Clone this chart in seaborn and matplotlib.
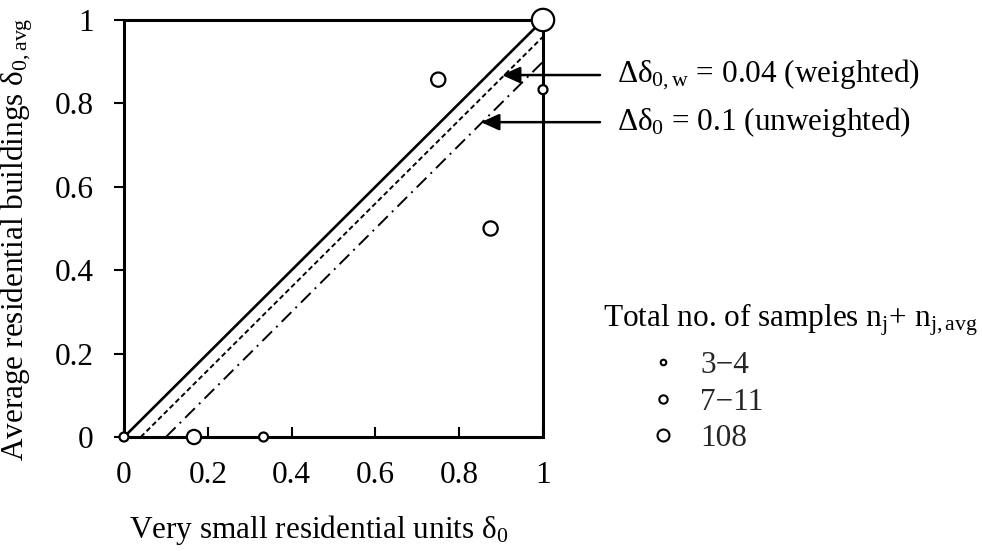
import numpy as np
import pandas as pd
import seaborn as sns
import matplotlib.pyplot as plt
from matplotlib.lines import Line2D

# ---- data -------------------------------------------------------------
delta_small = [0.0, 0.167, 0.333, 1.0, 0.75, 0.875, 1.0]      # very small residential units
delta_avg = [0.0, 0.0, 0.0, 1.0, 0.857, 0.5, 0.833]           # average residential buildings
sample_group = ["3−4", "7−11", "3−4", "108", "7−11", "7−11", "3−4"]

group_order = ["3−4", "7−11", "108"]
offsets = [0.0, 0.04, 0.1]            # 1:1 line, weighted and unweighted shifts
offset_names = ["equal", "weighted", "unweighted"]
tick_vals = [0, 0.2, 0.4, 0.6, 0.8, 1]
tick_labels = ["0", "0.2", "0.4", "0.6", "0.8", "1"]

# ---- style ------------------------------------------------------------
sns.set_theme(style="white")
plt.rcParams["font.family"] = ["Liberation Serif", "DejaVu Serif"]
plt.rcParams["mathtext.fontset"] = "custom"
plt.rcParams["mathtext.rm"] = "Liberation Serif"
plt.rcParams["mathtext.it"] = "Liberation Serif"
plt.rcParams["mathtext.bf"] = "Liberation Serif:bold"
FS = 22.5

W, H = 982, 551
fig = plt.figure(figsize=(W / 100, H / 100), dpi=100)
ax = fig.add_axes([124 / W, 1 - 437 / H, 419 / W, 417 / H])


def fig_xy(px, py):
    """Pixel position (from top-left) to figure fraction."""
    return px / W, 1 - py / H


# ---- reference lines y = x - offset -----------------------------------
line_rows = []
for name, d in zip(offset_names, offsets):
    line_rows.append({"line": name, "x": d, "y": 0.0})
    line_rows.append({"line": name, "x": 1.0, "y": 1.0 - d})
lines = pd.DataFrame(line_rows)

line_styles = {
    "equal": dict(lw=1.9, dashes=None),
    "weighted": dict(lw=1.4, dashes=(2.6, 1.6)),
    "unweighted": dict(lw=1.4, dashes=(7, 3, 1, 3)),
}
for name in offset_names:
    sub = lines[lines["line"] == name]
    st = line_styles[name]
    sns.lineplot(data=sub, x="x", y="y", color="black", lw=st["lw"],
                 ax=ax, legend=False, zorder=3)
    if st["dashes"] is not None:
        ax.lines[-1].set_dashes(st["dashes"])

# ---- data points -------------------------------------------------------
pts = pd.DataFrame({"x": delta_small, "y": delta_avg, "group": sample_group})
sns.scatterplot(data=pts, x="x", y="y", size="group", size_order=group_order,
                sizes={"3−4": 42, "7−11": 105, "108": 260},
                color="white", edgecolor="black", linewidth=1.6,
                legend=False, clip_on=False, zorder=6, ax=ax)

# ---- axes --------------------------------------------------------------
ax.set_xlim(0, 1)
ax.set_ylim(0, 1)
ax.set_xticks(tick_vals)
ax.set_xticklabels(tick_labels)
ax.set_yticks(tick_vals)
ax.set_yticklabels(tick_labels)
for s in ax.spines.values():
    s.set_visible(True)
    s.set_color("black")
    s.set_linewidth(2.2)
ax.tick_params(axis="x", direction="in", length=7, width=1.5, colors="black",
               labelsize=FS, pad=17, bottom=True)
ax.tick_params(axis="y", direction="out", length=7, width=1.5, colors="black",
               labelsize=FS, pad=15, left=True)
ax.set_xlabel(r"Very small residential units $\delta_{0}$", fontsize=FS, color="black")
ax.set_ylabel(r"Average residential buildings $\delta_{0,\mathrm{avg}}$", fontsize=FS, color="black")
ax.xaxis.set_label_coords(0.464, -0.182)
ax.yaxis.set_label_coords(-0.212, 0.475)

# ---- arrows with offset annotations -------------------------------------
notes = [
    (r"$\Delta\delta_{0,\mathrm{w}}$ = 0.04 (weighted)", 0.902, 0.868),
    (r"$\Delta\delta_{0}$ = 0.1 (unweighted)", 0.852, 0.755),
]
for txt, tx, ty in notes:
    ax.annotate("", xy=(tx, ty), xytext=(1.136, ty),
                arrowprops=dict(arrowstyle="-|>,head_length=0.55,head_width=0.25",
                                color="black", lw=1.8, mutation_scale=20,
                                shrinkA=0, shrinkB=0),
                annotation_clip=False)
    ax.text(1.177, ty, txt, fontsize=FS, va="center", ha="left", color="black")

# ---- size legend ---------------------------------------------------------
fig.text(*fig_xy(603, 327), r"Total no. of samples n$_\mathrm{j}$+ n$_\mathrm{j,avg}$",
         fontsize=FS, va="baseline", ha="left", color="black")
handle_ms = {"3−4": 4.0, "7−11": 6.0, "108": 8.6}
handles = [Line2D([], [], ls="none", marker="o", markersize=handle_ms[g],
                  markerfacecolor="white", markeredgecolor="black",
                  markeredgewidth=1.5) for g in group_order]
ax.legend(handles, group_order, loc="upper left",
          bbox_to_anchor=fig_xy(650, 351), bbox_transform=fig.transFigure,
          frameon=False, borderpad=0, borderaxespad=0,
          handlelength=0.83, handletextpad=0.77, labelspacing=0.24,
          fontsize=FS)

fig.savefig("out.png", dpi=100)
